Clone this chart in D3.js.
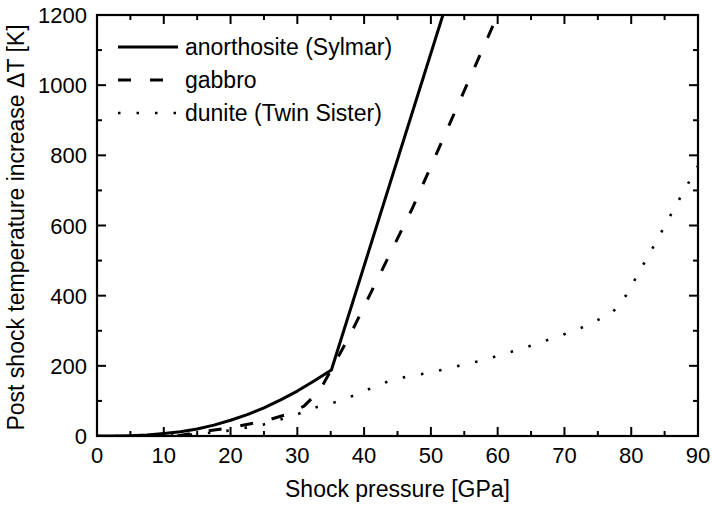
<!DOCTYPE html>
<html><head><meta charset="utf-8">
<script src="https://cdn.jsdelivr.net/npm/d3@7"></script>
<style>
body{margin:0;background:#fff;}
text{font-family:"Liberation Sans",Arial,sans-serif;fill:#000;}
</style></head>
<body><svg id="c" width="712" height="511"></svg>
<script>
// Data
const anorthositeP = [0,2.5,5,7.5,10,12.5,15,17.5,20,22.5,25,27.5,30,32.5,35.1,51.8];
const anorthositeT = [0,0,1,3,7,12,20,31,45,61,80,103,128,157,188,1200];
const gabbroP = [12,15,20,25,28.5,31,33.4,35.1,37.9,47.3,60];
const gabbroT = [0,10,24,42,62,85,131,190,288,652,1200];
const duniteP = [0,10,15,20,25,30,33,36,38.8,41.5,44.3,47,49.7,52.5,55.2,58,60.7,63.5,66.2,68.9,71.8,74.5,77.2,79.2,80.7,83.8,86.8,90];
const duniteT = [0,0,5,16,33,62,83,98,118,140,161,171,180,192,205,217,233,248,265,283,302,326,352,400,451,556,661,770];
const seriesNames = ["anorthosite (Sylmar)","gabbro","dunite (Twin Sister)"];
const xTicks = [0,10,20,30,40,50,60,70,80,90];
const yTicks = [0,200,400,600,800,1000,1200];
const xLabel = "Shock pressure [GPa]";
const yLabel = "Post shock temperature increase \u0394T [K]";

const svg = d3.select("#c");
const L=97,R=698,T=15,B=436;
const x = d3.scaleLinear().domain([0,90]).range([L,R]);
const y = d3.scaleLinear().domain([0,1200]).range([B,T]);

svg.append("defs").append("clipPath").attr("id","clip")
  .append("rect").attr("x",L).attr("y",T).attr("width",R-L).attr("height",B-T);

const styles = [
  {dash:null, w:3},
  {dash:"13,19", w:3},
  {dash:"2.5,16", w:2.6}
];
const data = [
  anorthositeP.map((p,i)=>[p,anorthositeT[i]]),
  gabbroP.map((p,i)=>[p,gabbroT[i]]),
  duniteP.map((p,i)=>[p,duniteT[i]])
];
const line = d3.line().x(d=>x(d[0])).y(d=>y(d[1]));
const g = svg.append("g").attr("clip-path","url(#clip)");
data.forEach((d,i)=>{
  g.append("path").attr("d",line(d)).attr("fill","none").attr("stroke","#000")
   .attr("stroke-width",styles[i].w).attr("stroke-dasharray",styles[i].dash)
   .attr("stroke-linejoin","round");
});

// Axes with inward ticks
const xMinor = d3.range(5,90,10);
const yMinor = d3.range(100,1200,200);
function ticks(sel, orient){
  const ax = sel.append("g");
  return ax;
}
const tg = svg.append("g").attr("stroke","#000").attr("stroke-width",2);
xTicks.forEach(v=>{ tg.append("line").attr("x1",x(v)).attr("x2",x(v)).attr("y1",B).attr("y2",B-9);
                    tg.append("line").attr("x1",x(v)).attr("x2",x(v)).attr("y1",T).attr("y2",T+9);});
xMinor.forEach(v=>{ tg.append("line").attr("x1",x(v)).attr("x2",x(v)).attr("y1",B).attr("y2",B-5);
                    tg.append("line").attr("x1",x(v)).attr("x2",x(v)).attr("y1",T).attr("y2",T+5);});
yTicks.forEach(v=>{ tg.append("line").attr("y1",y(v)).attr("y2",y(v)).attr("x1",L).attr("x2",L+9);
                    tg.append("line").attr("y1",y(v)).attr("y2",y(v)).attr("x1",R).attr("x2",R-9);});
yMinor.forEach(v=>{ tg.append("line").attr("y1",y(v)).attr("y2",y(v)).attr("x1",L).attr("x2",L+5);
                    tg.append("line").attr("y1",y(v)).attr("y2",y(v)).attr("x1",R).attr("x2",R-5);});
svg.append("rect").attr("x",L).attr("y",T).attr("width",R-L).attr("height",B-T)
  .attr("fill","none").attr("stroke","#000").attr("stroke-width",2.2);

// tick labels
svg.append("g").selectAll("text").data(xTicks).join("text")
  .attr("x",d=>x(d)).attr("y",B+27).attr("text-anchor","middle").attr("font-size",22).text(d=>d);
svg.append("g").selectAll("text").data(yTicks).join("text")
  .attr("x",L-10).attr("y",d=>y(d)+8).attr("text-anchor","end").attr("font-size",22).text(d=>d);

svg.append("text").attr("x",(L+R)/2).attr("y",497).attr("text-anchor","middle").attr("font-size",23).text(xLabel);
svg.append("text").attr("transform",`translate(24,${(T+B)/2+2}) rotate(-90)`).attr("text-anchor","middle").attr("font-size",23).text(yLabel);

// legend
const ly = [47,80,113];
seriesNames.forEach((n,i)=>{
  svg.append("line").attr("x1",118).attr("x2",178).attr("y1",ly[i]).attr("y2",ly[i])
    .attr("stroke","#000").attr("stroke-width",styles[i].w).attr("stroke-dasharray",styles[i].dash);
  svg.append("text").attr("x",185).attr("y",ly[i]+8).attr("font-size",23).text(n);
});
</script></body></html>
